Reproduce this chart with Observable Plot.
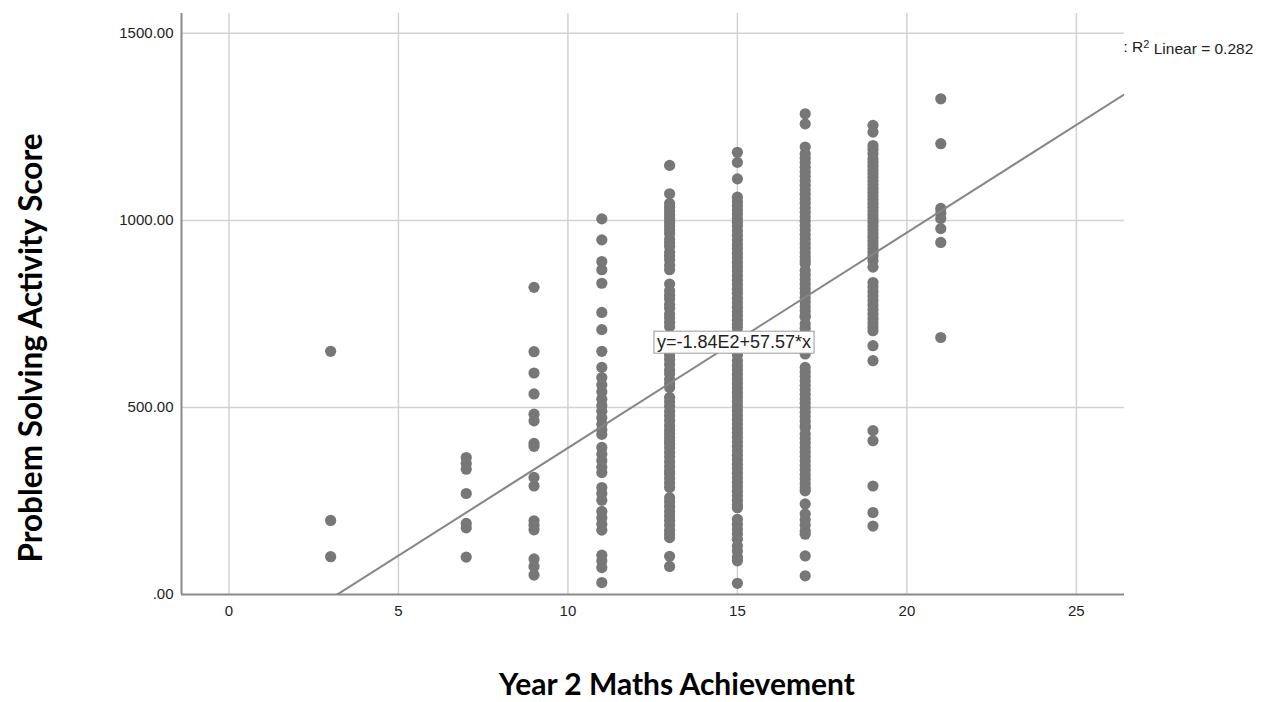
<!DOCTYPE html>
<html><head><meta charset="utf-8">
<script src="https://cdn.jsdelivr.net/npm/d3@7"></script>
<script src="https://cdn.jsdelivr.net/npm/@observablehq/plot@0.6"></script>
<style>
html,body{margin:0;padding:0;background:#fff;}
#chart svg{display:block;}
</style>
</head><body><div id="chart"></div>
<script>
// ---- Data ----
const mathsLevels = [3, 7, 9, 11, 13, 15, 17, 19, 21];
const scores3 = [650, 198, 101];
const scores7 = [366, 350, 335, 270, 190, 178, 100];
const scores9 = [821, 649, 592, 536, 482, 464, 404, 396, 313, 290, 197, 185, 173, 95, 75, 52];
const scores11 = [1004, 948, 890, 868, 832, 754, 708, 650, 607, 580, 560, 542, 522, 505, 490, 472, 455, 440, 428, 393, 375, 358, 340, 326, 286, 270, 252, 222, 205, 188, 172, 105, 90, 72, 32];
const scores13 = [1147, 1071, 1045, 1035, 1025, 1015, 1005, 995, 985, 975, 965, 950, 940, 930, 915, 905, 895, 880, 868, 830, 812, 800, 790, 775, 765, 750, 740, 728, 716, 690, 670, 652, 640, 628, 615, 600, 590, 575, 563, 553, 527, 515, 503, 490, 478, 465, 452, 440, 430, 420, 411, 403, 392, 380, 368, 355, 342, 330, 322, 310, 298, 286, 259, 248, 235, 222, 210, 198, 185, 172, 162, 152, 102, 75];
const scores15 = [1182, 1155, 1111, 1062, 1050, 1040, 1028, 1017, 1005, 995, 985, 972, 960, 948, 935, 925, 912, 900, 888, 876, 865, 852, 840, 828, 816, 805, 792, 780, 768, 756, 745, 733, 722, 714, 700, 680, 660, 640, 625, 612, 600, 588, 576, 564, 552, 540, 528, 516, 504, 492, 480, 468, 456, 444, 432, 420, 408, 396, 384, 372, 360, 348, 336, 324, 312, 300, 288, 276, 264, 252, 240, 232, 201, 188, 175, 162, 148, 130, 116, 100, 90, 30];
const scores17 = [1285, 1258, 1196, 1178, 1166, 1155, 1142, 1130, 1118, 1106, 1094, 1082, 1070, 1058, 1046, 1034, 1022, 1010, 998, 986, 974, 962, 950, 938, 926, 914, 902, 892, 884, 866, 854, 842, 830, 818, 806, 794, 782, 770, 758, 746, 741, 724, 712, 700, 688, 676, 664, 652, 643, 607, 595, 583, 571, 559, 547, 535, 523, 511, 499, 487, 475, 463, 452, 446, 429, 417, 405, 393, 381, 369, 357, 345, 333, 321, 309, 297, 285, 277, 242, 215, 200, 185, 170, 161, 103, 50];
const scores19 = [1254, 1236, 1200, 1190, 1178, 1165, 1155, 1145, 1135, 1125, 1115, 1105, 1095, 1085, 1075, 1065, 1055, 1045, 1035, 1025, 1015, 1005, 995, 985, 975, 965, 955, 945, 935, 925, 915, 905, 892, 875, 834, 822, 810, 798, 786, 774, 762, 750, 738, 726, 715, 705, 665, 625, 438, 411, 290, 219, 183];
const scores21 = [1325, 1205, 1032, 1020, 1005, 978, 941, 687];

const xTicks = [0, 5, 10, 15, 20, 25];
const yTicks = [0, 500, 1000, 1500];
const yTickLabels = [".00", "500.00", "1000.00", "1500.00"];
const xDomain = [-1.4, 26.42];
const yDomain = [0, 1553];

const fitIntercept = -184;   // y=-1.84E2+57.57*x
const fitSlope = 57.57;
const fitLabel = "y=-1.84E2+57.57*x";
const fitLabelX = 14.9;
const r2Label = ": R² Linear = 0.282";
const xTitle = "Year 2 Maths Achievement";
const yTitle = "Problem Solving Activity Score";

// ---- Build table ----
const groups = [scores3, scores7, scores9, scores11, scores13, scores15, scores17, scores19, scores21];
const points = [];
groups.forEach((arr, i) => arr.forEach(v => points.push({maths: mathsLevels[i], score: v})));

const fitLine = [xDomain[0], xDomain[1]].map(x => ({x, y: fitIntercept + fitSlope * x}));
const labelPt = [{x: fitLabelX, y: fitIntercept + fitSlope * fitLabelX, t: fitLabel}];

const tickFont = "'Liberation Sans', Arial, sans-serif";
const titleFont = "Lato, 'Open Sans', sans-serif";

const chart = Plot.plot({
  width: 1268,
  height: 702,
  marginLeft: 181,
  marginRight: 144,
  marginTop: 13,
  marginBottom: 108,
  style: {background: "#fff", fontFamily: tickFont},
  x: {domain: xDomain, ticks: xTicks},
  y: {domain: yDomain, ticks: yTicks},
  marks: [
    Plot.gridX(xTicks, {stroke: "#d2d2d2", strokeOpacity: 1, strokeWidth: 1.5}),
    Plot.gridY(yTicks.filter(d => d > 0), {stroke: "#d2d2d2", strokeOpacity: 1, strokeWidth: 1.5}),
    Plot.axisX(xTicks, {tickSize: 0, tickPadding: 11, fontSize: 15, fill: "#222", label: null}),
    Plot.axisY(yTicks, {tickSize: 0, tickPadding: 8, fontSize: 15, fill: "#222", label: null,
      tickFormat: d => yTickLabels[yTicks.indexOf(d)]}),
    Plot.ruleY([yDomain[0]], {stroke: "#8a8a8a", strokeWidth: 2}),
    Plot.ruleX([xDomain[0]], {stroke: "#8a8a8a", strokeWidth: 2}),
    Plot.dot(points, {x: "maths", y: "score", r: 5.6, fill: "#777", stroke: "none"}),
    Plot.line(fitLine, {x: "x", y: "y", stroke: "#868686", strokeWidth: 2, clip: true}),
    Plot.text(labelPt, {x: "x", y: "y", text: "t", fontSize: 18, fill: "#222", fontFamily: tickFont}),
    Plot.text([r2Label], {frameAnchor: "top-right", textAnchor: "start", lineAnchor: "middle", dx: -1, dy: 34, fontSize: 15.5, fill: "#222", fontFamily: tickFont}),
    Plot.text([xTitle], {frameAnchor: "bottom", textAnchor: "middle", lineAnchor: "middle", dx: 24, dy: 91, fontSize: 30, fontWeight: "bold", fill: "#000", fontFamily: titleFont}),
    Plot.text([yTitle], {frameAnchor: "left", textAnchor: "middle", lineAnchor: "middle", dx: -150, dy: 44, rotate: -90, fontSize: 31.5, fontWeight: "bold", fill: "#000", fontFamily: titleFont})
  ]
});
document.getElementById("chart").append(chart);

// equation box & superscript
const svg = d3.select(chart);
svg.selectAll("text").each(function() {
  const t = this.textContent;
  if (t === fitLabel) {
    const bb = this.getBBox();
    d3.select(this.parentNode).insert("rect", () => this)
      .attr("transform", this.getAttribute("transform"))
      .attr("x", bb.x - 3).attr("y", bb.y - 1)
      .attr("width", bb.width + 6).attr("height", bb.height + 2)
      .attr("fill", "#fff").attr("stroke", "#999").attr("stroke-width", 1);
  } else if (t === r2Label) {
    const el = d3.select(this);
    el.text(null);
    el.append("tspan").text(": R");
    el.append("tspan").attr("dy", "-0.4em").attr("font-size", "11px").text("2");
    el.append("tspan").attr("dy", "0.4em").text(" Linear = 0.282");
  }
});
</script>
</body></html>
